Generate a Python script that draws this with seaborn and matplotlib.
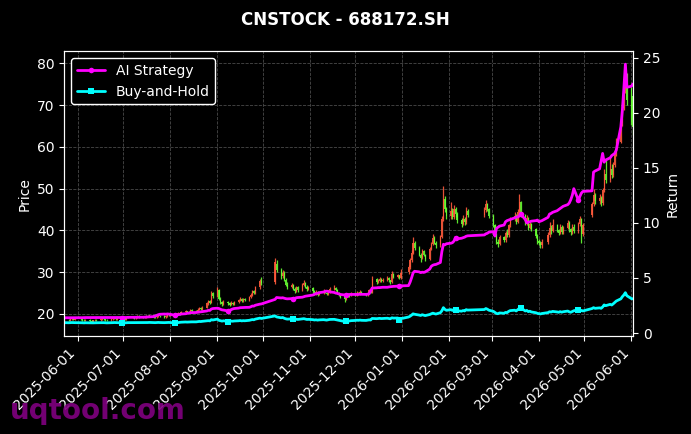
import numpy as np
import pandas as pd
import seaborn as sns
import matplotlib.pyplot as plt
import matplotlib.dates as mdates

# trading calendar (weekdays minus exchange holidays)
holidays = ['2025-06-02', '2025-10-01', '2025-10-02', '2025-10-03', '2025-10-06',
            '2025-10-07', '2025-10-08', '2026-01-01', '2026-01-02', '2026-02-16',
            '2026-02-17', '2026-02-18', '2026-02-19', '2026-02-20', '2026-02-23',
            '2026-04-06', '2026-05-01', '2026-05-04', '2026-05-05']

opens = [
    18.5, 18.6, 18.4, 18.7, 18.9, 18.6,
    18.8, 18.7, 18.5, 18.4, 18.6, 18.3, 18.1, 18.4, 18.6, 18.5, 18.8, 18.9, 18.7, 18.5, 18.4, 18.7, 18.9, 19.0, 18.8, 18.9,
    19.1, 19.0, 18.8, 19.1, 19.3, 19.2, 19.0, 19.1, 19.4, 19.3, 19.1, 19.2, 19.5, 19.4, 19.6, 19.3, 19.2, 19.4, 19.6, 19.5, 19.3, 19.5, 19.7,
    19.6, 19.8, 20.1, 19.9, 20.2, 20.0, 20.4, 20.6, 20.3, 20.5, 20.9, 20.7, 20.6, 21.0, 21.4, 21.1, 21.5, 22.4, 23.0, 22.7, 24.9,
    24.4, 25.8, 23.6, 22.8, 22.3, 22.9, 22.5, 22.2, 22.7, 22.4, 22.8, 23.2, 23.6, 23.1, 23.5, 23.3, 24.0, 24.6, 25.4, 25.0, 26.3, 27.9,
    27.6, 32.0, 30.6, 29.0, 29.8, 28.2, 27.0, 26.4, 26.8, 26.0, 25.5, 26.3, 25.8, 26.9, 27.4, 26.5, 25.9,
    26.1, 25.4, 24.8, 25.2, 24.6, 25.0, 25.5, 25.1, 24.7, 25.3, 25.9, 26.2, 25.6, 25.0, 24.5, 24.1, 23.6, 24.2, 24.8, 24.4,
    24.9, 24.6, 25.1, 24.8, 25.3, 24.9, 24.5, 25.0, 25.6, 25.3, 28.3, 27.6, 27.9, 28.4, 27.8, 28.2, 28.6, 28.0, 27.6, 29.5, 28.9, 29.2, 28.6,
    30.0, 31.2, 32.8, 34.6, 36.9, 35.8, 34.2, 33.4, 35.0, 34.1, 33.2, 35.6, 36.8, 38.2, 37.0, 36.4, 38.5, 42.6, 47.5, 45.0,
    43.4, 44.6, 43.1, 45.2, 43.8, 42.4, 41.6, 42.8, 41.9, 44.6, 43.7, 44.8, 46.2, 45.0,
    43.5, 41.2, 39.0, 37.1, 36.8, 38.3, 37.6, 39.4, 38.8, 41.2, 42.6, 43.4, 42.0, 44.5, 46.8, 43.6, 41.8, 42.9, 40.6, 41.5, 40.2, 38.6,
    37.4, 37.0, 36.4, 37.2, 38.9, 40.6, 39.8, 41.2, 40.1, 39.4, 40.8, 39.6, 40.5, 41.8, 40.2, 39.5, 40.9, 39.8, 41.5, 42.6, 39.0,
    43.6, 46.2, 48.4, 46.9, 47.8, 46.5, 49.6, 53.5, 52.0, 54.8, 53.2, 55.6, 58.4, 61.2, 65.8, 69.4, 73.8, 76.5,
    73.8, 72.2,
]
highs = [
    18.9, 18.8, 18.9, 19.1, 19.0, 19.0,
    18.9, 18.8, 18.7, 18.8, 18.7, 18.5, 18.6, 18.8, 18.8, 19.0, 19.1, 19.0, 18.8, 18.7, 18.9, 19.1, 19.3, 19.1, 19.1, 19.3,
    19.3, 19.1, 19.2, 19.5, 19.5, 19.3, 19.3, 19.6, 19.6, 19.4, 19.4, 19.7, 19.7, 19.8, 19.8, 19.5, 19.6, 19.8, 19.8, 19.6, 19.7, 19.9, 19.9,
    20.0, 20.3, 20.3, 20.4, 20.4, 20.6, 20.9, 20.7, 20.7, 21.2, 21.1, 20.9, 21.3, 21.7, 21.6, 21.8, 22.8, 23.4, 23.3, 25.5, 25.3,
    26.4, 26.0, 24.0, 23.1, 23.2, 23.1, 22.8, 23.0, 22.9, 23.1, 23.5, 24.0, 23.8, 23.8, 23.8, 24.3, 24.9, 25.8, 25.7, 26.6, 28.4, 28.8,
    33.3, 33.0, 31.0, 30.6, 30.2, 28.6, 27.5, 27.3, 27.1, 26.3, 26.7, 26.6, 27.4, 28.0, 27.6, 26.8, 26.6,
    26.3, 25.8, 25.6, 25.4, 25.3, 25.9, 25.8, 25.3, 25.6, 26.4, 26.8, 26.5, 25.9, 25.3, 24.8, 24.3, 24.6, 25.1, 25.0, 25.2,
    25.2, 25.4, 25.3, 25.6, 25.5, 25.1, 25.3, 26.0, 25.8, 29.0, 28.6, 28.4, 28.8, 28.5, 28.5, 29.0, 28.8, 28.2, 30.2, 29.8, 29.6, 29.4, 30.7,
    31.6, 33.4, 35.2, 38.3, 37.4, 36.2, 34.6, 35.6, 35.4, 34.4, 35.9, 37.3, 39.0, 38.6, 37.5, 38.9, 43.4, 50.5, 48.2, 45.6,
    46.7, 45.4, 46.0, 45.6, 44.3, 42.9, 43.6, 43.2, 45.7, 45.2, 45.6, 47.2, 46.6, 45.3,
    43.8, 41.6, 39.4, 37.9, 38.8, 38.6, 39.9, 40.3, 41.6, 43.2, 44.3, 43.8, 45.0, 48.6, 46.9, 44.0, 43.6, 43.2, 42.1, 41.8, 40.5, 39.0,
    37.9, 37.4, 37.8, 39.6, 41.9, 41.2, 42.6, 41.5, 40.4, 41.4, 41.2, 41.0, 42.5, 42.3, 40.6, 41.5, 41.4, 42.0, 43.4, 42.9, 41.8,
    46.8, 49.8, 48.9, 48.6, 48.3, 50.2, 54.6, 56.8, 57.2, 55.9, 56.4, 59.2, 62.0, 66.5, 70.2, 75.0, 79.8, 77.6,
    74.3, 72.9,
]
lows = [
    18.3, 18.2, 18.3, 18.6, 18.4, 18.5,
    18.5, 18.3, 18.2, 18.2, 18.1, 17.8, 17.9, 18.2, 18.3, 18.3, 18.6, 18.5, 18.3, 18.2, 18.2, 18.5, 18.7, 18.6, 18.6, 18.7,
    18.8, 18.6, 18.6, 18.9, 19.0, 18.8, 18.8, 18.9, 19.1, 19.0, 18.9, 19.0, 19.2, 19.2, 19.1, 19.0, 19.0, 19.2, 19.3, 19.1, 19.1, 19.3, 19.4,
    19.4, 19.6, 19.8, 19.7, 19.8, 19.9, 20.2, 20.1, 20.1, 20.3, 20.5, 20.4, 20.4, 20.8, 20.9, 20.9, 21.3, 22.1, 22.3, 22.5, 23.9,
    24.0, 23.4, 22.4, 21.8, 22.0, 22.2, 21.8, 22.0, 22.1, 22.2, 22.6, 23.0, 22.9, 22.9, 23.0, 23.1, 23.8, 24.3, 24.7, 24.8, 26.0, 27.0,
    27.2, 30.0, 28.4, 28.6, 27.8, 26.6, 25.9, 26.1, 25.6, 25.0, 25.2, 25.3, 25.5, 26.6, 26.1, 25.4, 25.6,
    25.1, 24.4, 24.5, 24.3, 24.4, 24.8, 24.9, 24.4, 24.5, 25.1, 25.7, 25.4, 24.8, 24.3, 23.8, 22.9, 23.4, 24.0, 24.1, 24.2,
    24.3, 24.3, 24.6, 24.6, 24.7, 24.3, 24.3, 24.8, 25.0, 25.1, 27.2, 27.3, 27.6, 27.5, 27.5, 27.9, 27.7, 27.2, 27.4, 28.6, 28.5, 28.3, 28.4,
    29.6, 30.8, 32.5, 34.3, 35.2, 33.9, 32.4, 33.1, 33.8, 32.7, 33.0, 35.2, 36.5, 36.6, 35.8, 36.1, 38.2, 42.2, 44.4, 42.6,
    42.8, 42.6, 42.7, 43.3, 41.8, 40.7, 41.2, 41.3, 41.6, 43.1, 43.3, 44.3, 44.6, 42.9,
    40.8, 38.6, 36.6, 36.0, 36.5, 37.2, 37.3, 38.4, 38.5, 40.9, 42.2, 41.6, 41.8, 44.1, 43.1, 41.2, 41.3, 40.1, 40.2, 39.8, 38.2, 36.8,
    36.4, 35.8, 35.7, 36.8, 38.4, 39.2, 39.5, 39.6, 38.9, 39.1, 39.1, 39.2, 40.2, 39.7, 38.8, 39.2, 39.4, 39.4, 41.0, 37.0, 38.7,
    43.2, 45.8, 46.2, 46.4, 45.9, 46.1, 49.2, 51.4, 51.6, 52.6, 52.8, 55.1, 57.9, 60.8, 65.0, 68.9, 72.9, 70.0,
    65.2, 62.9,
]
closes = [
    18.6, 18.4, 18.7, 18.9, 18.6, 18.8,
    18.7, 18.5, 18.4, 18.6, 18.3, 18.1, 18.4, 18.6, 18.5, 18.8, 18.9, 18.7, 18.5, 18.4, 18.7, 18.9, 19.0, 18.8, 18.9, 19.1,
    19.0, 18.8, 19.1, 19.3, 19.2, 19.0, 19.1, 19.4, 19.3, 19.1, 19.2, 19.5, 19.4, 19.6, 19.3, 19.2, 19.4, 19.6, 19.5, 19.3, 19.5, 19.7, 19.6,
    19.8, 20.1, 19.9, 20.2, 20.0, 20.4, 20.6, 20.3, 20.5, 20.9, 20.7, 20.6, 21.0, 21.4, 21.1, 21.5, 22.5, 23.0, 22.6, 24.8, 24.2,
    25.9, 23.6, 22.8, 22.3, 22.9, 22.5, 22.2, 22.7, 22.4, 22.8, 23.2, 23.6, 23.1, 23.5, 23.3, 24.0, 24.6, 25.4, 25.0, 26.3, 27.9, 27.4,
    32.5, 30.6, 29.0, 29.8, 28.2, 27.0, 26.4, 26.8, 26.0, 25.5, 26.3, 25.8, 26.9, 27.4, 26.5, 25.9, 26.2,
    25.4, 24.8, 25.2, 24.6, 25.0, 25.5, 25.1, 24.7, 25.3, 25.9, 26.2, 25.6, 25.0, 24.5, 24.1, 23.6, 24.2, 24.8, 24.4, 24.9,
    24.6, 25.1, 24.8, 25.3, 24.9, 24.5, 25.0, 25.6, 25.2, 28.3, 27.6, 27.9, 28.4, 27.8, 28.2, 28.6, 28.0, 27.6, 29.5, 28.9, 29.2, 28.6, 29.8,
    31.2, 32.8, 34.6, 36.9, 35.8, 34.2, 33.4, 35.0, 34.1, 33.2, 35.6, 36.8, 38.2, 37.0, 36.4, 38.5, 42.6, 47.5, 45.0, 43.4,
    44.6, 43.1, 45.2, 43.8, 42.4, 41.6, 42.8, 41.9, 44.6, 43.7, 44.8, 46.2, 45.0, 43.5,
    41.2, 39.0, 37.1, 36.8, 38.3, 37.6, 39.4, 38.8, 41.2, 42.6, 43.4, 42.0, 44.5, 46.8, 43.6, 41.8, 42.9, 40.6, 41.5, 40.2, 38.6, 37.4,
    37.0, 36.4, 37.2, 38.9, 40.6, 39.8, 41.2, 40.1, 39.4, 40.8, 39.6, 40.5, 41.8, 40.2, 39.5, 40.9, 39.8, 41.5, 42.6, 39.0, 41.3,
    46.2, 48.4, 46.9, 47.8, 46.5, 49.6, 53.5, 52.0, 54.8, 53.2, 55.6, 58.4, 61.2, 65.8, 69.4, 73.8, 78.6, 71.2,
    66.0, 64.8,
]

ai_strategy = [
    1.38, 1.38, 1.39, 1.39, 1.39, 1.39,
    1.39, 1.39, 1.40, 1.40, 1.40, 1.40, 1.40, 1.41, 1.41, 1.41, 1.40, 1.40, 1.40, 1.40, 1.41, 1.41, 1.41, 1.41, 1.41, 1.40,
    1.40, 1.41, 1.41, 1.42, 1.42, 1.41, 1.42, 1.42, 1.43, 1.43, 1.44, 1.45, 1.46, 1.47, 1.49, 1.55, 1.60, 1.66, 1.70, 1.72, 1.71, 1.73, 1.72,
    1.70, 1.60, 1.62, 1.66, 1.68, 1.72, 1.75, 1.78, 1.80, 1.84, 1.85, 1.86, 1.88, 1.90, 1.92, 1.95, 2.00, 2.06, 2.05, 2.18, 2.22,
    2.25, 2.22, 2.15, 2.10, 2.08, 2.00, 2.05, 2.12, 2.18, 2.22, 2.26, 2.30, 2.30, 2.31, 2.32, 2.33, 2.38, 2.45, 2.44, 2.52, 2.62, 2.64,
    3.05, 3.22, 3.18, 3.20, 3.16, 3.12, 3.10, 3.12, 3.10, 3.14, 3.20, 3.22, 3.25, 3.30, 3.34, 3.36, 3.38,
    3.45, 3.52, 3.58, 3.60, 3.66, 3.72, 3.78, 3.80, 3.78, 3.74, 3.68, 3.62, 3.60, 3.55, 3.50, 3.45, 3.46, 3.48, 3.47, 3.50,
    3.50, 3.49, 3.50, 3.52, 3.51, 3.50, 3.52, 3.55, 3.80, 4.08, 4.10, 4.12, 4.12, 4.14, 4.15, 4.15, 4.18, 4.20, 4.22, 4.23, 4.25, 4.27, 4.28,
    4.30, 4.60, 5.00, 5.45, 5.60, 5.55, 5.48, 5.52, 5.50, 5.54, 5.80, 6.05, 6.15, 6.20, 6.22, 6.40, 7.40, 8.05, 8.00, 8.10,
    8.15, 8.20, 8.35, 8.66, 8.55, 8.60, 8.65, 8.70, 8.78, 8.82, 8.90, 9.00, 9.05, 9.15,
    9.20, 8.80, 9.50, 9.60, 9.70, 9.80, 10.10, 10.20, 10.25, 10.30, 10.45, 10.50, 10.55, 10.60, 10.80, 10.30, 10.00, 10.05, 10.10, 10.15, 10.20, 10.25,
    10.10, 10.15, 10.20, 10.50, 10.80, 10.85, 10.95, 11.10, 11.20, 11.30, 11.40, 11.50, 11.65, 11.80, 12.10, 12.50, 13.10, 12.05, 12.40, 12.70, 12.85,
    12.90, 14.60, 14.70, 14.90, 15.60, 16.30, 15.50, 15.70, 15.90, 16.10, 16.20, 16.30, 16.60, 18.70, 20.20, 22.20, 24.40, 22.30,
    22.40, 22.60,
]
buy_hold = [
    0.94, 0.93, 0.94, 0.95, 0.94, 0.94,
    0.94, 0.93, 0.92, 0.93, 0.92, 0.91, 0.92, 0.93, 0.93, 0.94, 0.95, 0.94, 0.93, 0.92, 0.93, 0.94, 0.95, 0.94, 0.94, 0.92,
    0.93, 0.92, 0.93, 0.94, 0.94, 0.93, 0.93, 0.95, 0.94, 0.93, 0.94, 0.95, 0.95, 0.96, 0.94, 0.94, 0.95, 0.96, 0.95, 0.94, 0.95, 0.96, 0.96,
    0.95, 0.91, 0.93, 0.95, 0.96, 0.98, 1.00, 0.99, 1.00, 1.02, 1.01, 1.01, 1.03, 1.05, 1.04, 1.06, 1.10, 1.12, 1.10, 1.21, 1.18,
    1.26, 1.15, 1.11, 1.08, 1.11, 1.04, 1.06, 1.08, 1.07, 1.09, 1.11, 1.13, 1.10, 1.12, 1.11, 1.15, 1.18, 1.22, 1.20, 1.26, 1.35, 1.32,
    1.55, 1.46, 1.38, 1.41, 1.34, 1.29, 1.26, 1.28, 1.25, 1.22, 1.25, 1.23, 1.28, 1.30, 1.26, 1.23, 1.24,
    1.21, 1.18, 1.20, 1.17, 1.19, 1.21, 1.19, 1.17, 1.20, 1.23, 1.24, 1.21, 1.18, 1.15, 1.12, 1.04, 1.05, 1.10, 1.09, 1.12,
    1.14, 1.16, 1.15, 1.17, 1.15, 1.14, 1.16, 1.19, 1.18, 1.32, 1.30, 1.31, 1.33, 1.31, 1.32, 1.34, 1.31, 1.29, 1.38, 1.35, 1.36, 1.22, 1.30,
    1.45, 1.52, 1.62, 1.74, 1.70, 1.63, 1.59, 1.66, 1.62, 1.58, 1.68, 1.74, 1.80, 1.76, 1.72, 1.84, 2.02, 2.30, 2.14, 2.06,
    2.12, 2.05, 2.15, 2.09, 2.02, 1.98, 2.04, 2.00, 2.12, 2.08, 2.13, 2.22, 2.16, 2.07,
    1.96, 1.86, 1.77, 1.75, 1.82, 1.79, 1.87, 1.85, 1.96, 2.03, 2.07, 2.00, 2.12, 2.23, 2.28, 2.00, 2.05, 1.94, 1.98, 1.91, 1.84, 1.78,
    1.76, 1.73, 1.77, 1.85, 1.93, 1.90, 1.96, 1.91, 1.88, 1.94, 1.89, 1.93, 1.99, 1.92, 1.88, 1.95, 2.02, 2.10, 1.97, 2.05, 2.00,
    2.22, 2.30, 2.24, 2.28, 2.24, 2.36, 2.55, 2.48, 2.60, 2.54, 2.65, 2.78, 2.90, 3.10, 3.30, 3.45, 3.66, 3.38,
    3.12, 3.10,
]

dates = pd.bdate_range('2025-05-23', '2026-06-02')
dates = dates[~dates.isin(pd.to_datetime(holidays))]

df = pd.DataFrame({'date': dates, 'open': opens, 'high': highs, 'low': lows,
                   'close': closes, 'ai': ai_strategy, 'bh': buy_hold})

sns.set_style('darkgrid', {
    'axes.facecolor': 'black', 'figure.facecolor': 'black',
    'axes.edgecolor': 'white', 'grid.color': '#4a4a4a', 'grid.linestyle': '--',
    'text.color': 'white', 'axes.labelcolor': 'white',
    'xtick.color': 'white', 'ytick.color': 'white',
    'xtick.bottom': True, 'ytick.left': True,
})
plt.rcParams['font.family'] = ['DejaVu Sans']

fig, ax = plt.subplots(figsize=(6.91, 4.34), dpi=100)
fig.subplots_adjust(left=0.093, right=0.916, top=0.882, bottom=0.226)

# candles: red up, green down
up = df['close'] >= df['open']
colors = np.where(up, '#ff5a3c', '#66ff33')
ax.vlines(df['date'], df['low'], df['high'], colors=colors, linewidth=0.9, alpha=0.9)
ax.bar(df['date'], (df['close'] - df['open']).abs(),
       bottom=df[['open', 'close']].min(axis=1), width=0.8,
       color=colors, edgecolor=colors, linewidth=0, alpha=0.9)
ax.grid(True, linestyle='--', linewidth=0.6, color='#4a4a4a')
ax.set_axisbelow(True)
ax.set_ylabel('Price', fontsize=10)
ax.set_xlim(df['date'].iloc[0], df['date'].iloc[-1])

ax2 = ax.twinx()
sns.lineplot(data=df, x='date', y='ai', ax=ax2, color='#ff00ff', linewidth=2,
             marker='o', markersize=4, markevery=(25, 25), markeredgewidth=0,
             label='AI Strategy')
sns.lineplot(data=df, x='date', y='bh', ax=ax2, color='#00ffff', linewidth=2,
             marker='s', markersize=4, markevery=(25, 25), markeredgewidth=0,
             label='Buy-and-Hold')
ax2.grid(False)
ax2.set_ylabel('Return', fontsize=10)
ax2.set_xlabel('')
ax.set_xlabel('')
ax2.tick_params(axis='y', colors='white', right=True, labelsize=10)
ax.tick_params(axis='both', colors='white', labelsize=10)
for sp in ax2.spines.values():
    sp.set_color('white')

ax.xaxis.set_major_locator(mdates.MonthLocator(bymonthday=1))
ax.xaxis.set_major_formatter(mdates.DateFormatter('%Y-%m-%d'))
plt.setp(ax.get_xticklabels(), rotation=45, ha='right')

leg = ax2.legend(loc='upper left', fontsize=10, facecolor='black',
                 edgecolor='white', framealpha=1)
for t in leg.get_texts():
    t.set_color('white')

fig.suptitle('CNSTOCK - 688172.SH', color='white', fontsize=12,
             fontweight='bold', y=0.975)
fig.text(0.014, 0.035, 'uqtool.com', color='#800080', fontsize=20,
         fontweight='bold', alpha=0.9, zorder=10)

fig.savefig('out.png', dpi=100, facecolor='black')
